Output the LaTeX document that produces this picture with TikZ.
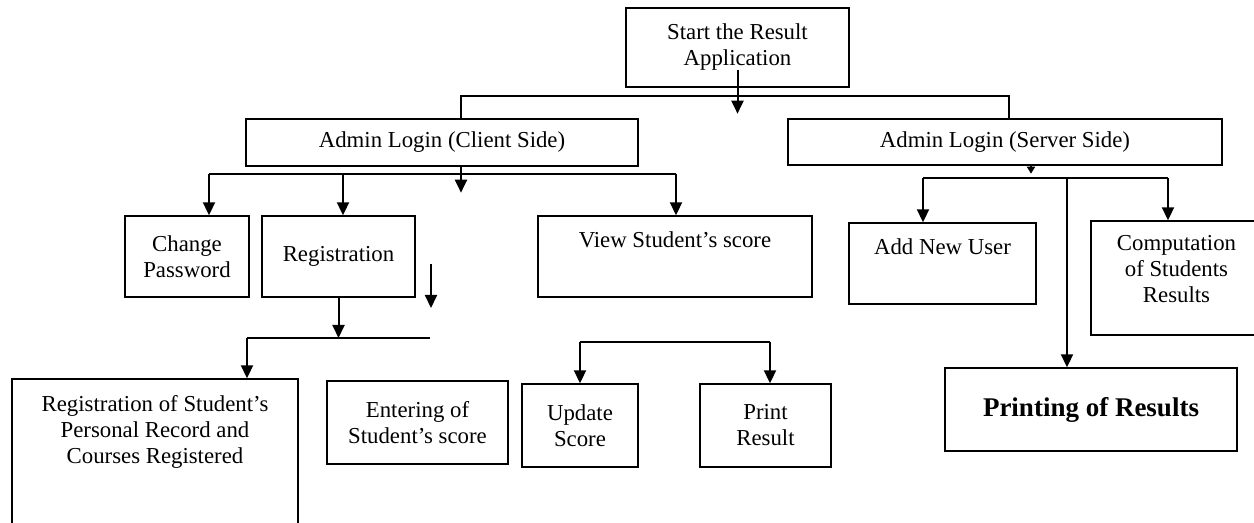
\documentclass[tikz,border=0pt]{standalone}
\usepackage{fontspec}
\setmainfont{Liberation Serif}
\usetikzlibrary{arrows.meta}

\begin{document}
\begin{tikzpicture}[x=0.5pt,y=-0.5pt,
	box/.style={draw, line width=0.7pt, align=center, inner sep=0pt, font=\fontsize{11.4}{13}\selectfont},
	line/.style={line width=1pt},
	arr/.style={line width=1pt, -{Triangle[width=6pt,length=6.5pt]}},
	smallarr/.style={line width=1pt, -{Triangle[width=4pt,length=3.5pt]}}]
	\useasboundingbox (0,0) rectangle (1254,523);

	\node[box, minimum width=111.5pt, minimum height=39.5pt] at (737.5,47.5) (start) {Start the Result\\Application};
	\node[box, minimum width=196pt, minimum height=23.5pt] at (442,142.5) (cli) {Admin Login (Client Side)};
	\node[box, minimum width=217pt, minimum height=23pt] at (1005,142) (srv) {Admin Login (Server Side)};
	\node[box, minimum width=62pt, minimum height=40.5pt] at (187,256.5) (chg) {Change\\Password};
	\node[box, minimum width=76.5pt, minimum height=40.5pt] at (338.5,256.5) (reg) {Registration};
	\node[box, minimum width=137pt, minimum height=40.5pt] at (675,256.5) (view) {View Student’s score\\[3.5pt]\mbox{}};
	\node[box, minimum width=93.5pt, minimum height=40.5pt] at (942.5,263.5) (add) {Add New User\\[3.5pt]\mbox{}};
	\node[box, minimum width=85.5pt, minimum height=57pt] at (1176.5,278) (comp) {Computation\\of Students\\Results\\[-4pt]\mbox{}};
	\node[box, minimum width=143pt, minimum height=80.5pt] at (155,459.5) (rsr) {Registration of Student’s\\Personal Record and\\Courses Registered\\[17.5pt]\mbox{}};
	\node[box, minimum width=90.5pt, minimum height=41.5pt] at (417.5,422.5) (ent) {Entering of\\Student’s score};
	\node[box, minimum width=58pt, minimum height=41.5pt] at (580,425.5) (upd) {Update\\Score};
	\node[box, minimum width=65.5pt, minimum height=41.5pt] at (765.5,425.5) (pnt) {Print\\Result};
	\node[box, minimum width=146pt, minimum height=41.5pt, font=\bfseries\fontsize{13.5}{16}\selectfont] at (1091,409.5) (prt) {Printing of Results};

	\coordinate (tb) at (1009,96);
	\coordinate (cb1) at (209,174);
	\coordinate (cb2) at (343,174);
	\coordinate (cb3) at (676,174);
	\coordinate (s1) at (431,264);
	\coordinate (s2) at (431,308);
	\coordinate (rb1) at (247,338);
	\coordinate (rb2) at (430,338);
	\coordinate (ub1) at (580,342);
	\coordinate (ub2) at (770,342);
	\coordinate (sb1) at (923,178);
	\coordinate (sb2) at (1067,178);
	\coordinate (sb3) at (1168,178);

	\draw[arr] ([yshift=9pt]start.south) -- ++(0,-22pt);
	\draw[line] ([xshift=9.5pt]cli.north) |- (tb) -- (tb |- srv.north);

	\draw[arr] ([xshift=9.5pt]cli.south) -- ++(0,-13pt);
	\draw[line] (cb1) -- (cb3);
	\draw[arr] (cb1) -- (cb1 |- chg.north);
	\draw[arr] (cb2) -- (cb2 |- reg.north);
	\draw[arr] (cb3) -- (cb3 |- view.north);

	\draw[arr] (s1) -- (s2);
	\draw[arr] (reg.south) -- (reg.south |- rb1);
	\draw[line] (rb2) -- (rb1);
	\draw[arr] (rb1) -- (rb1 |- rsr.north);

	\draw[line] (ub1) -- (ub2);
	\draw[arr] (ub1) -- (ub1 |- upd.north);
	\draw[arr] (ub2) -- (ub2 |- pnt.north);

	\draw[smallarr] ([xshift=13pt]srv.south) -- ++(0,-4pt);
	\draw[line] (sb1) -- (sb3);
	\draw[arr] (sb1) -- (sb1 |- add.north);
	\draw[arr] (sb2) -- (sb2 |- prt.north);
	\draw[arr] (sb3) -- (sb3 |- comp.north);
\end{tikzpicture}
\end{document}
